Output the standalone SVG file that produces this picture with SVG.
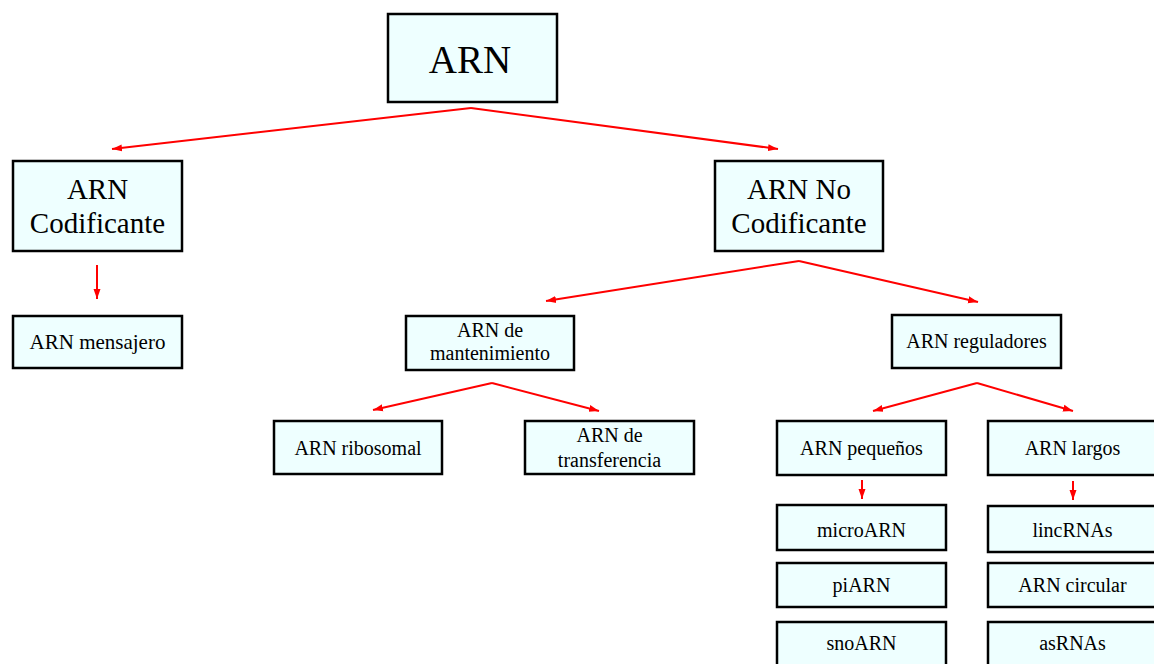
<svg xmlns="http://www.w3.org/2000/svg" width="1154" height="664" viewBox="0 0 1154 664">
<style>
.box{fill:#eeffff;stroke:#000;stroke-width:2.5}
.t{font-family:"Liberation Serif","Times New Roman",serif;fill:#000;text-anchor:middle}
.xl{font-size:39px}
.l{font-size:29px}
.s{font-size:20px}
.c{stroke:#ff0000;stroke-width:2;fill:none;marker-end:url(#ah)}
</style>
<defs>
<marker id="ah" markerUnits="userSpaceOnUse" markerWidth="11" markerHeight="9" refX="10" refY="4.5" orient="auto">
<path d="M0,1 L10,4.5 L0,8 Z" fill="#ff0000"/>
</marker>
</defs>
<rect width="1154" height="664" fill="#fff"/>
<g id="connectors">
<polyline class="c" points="471,108 112,149"/>
<polyline class="c" points="471,108 778,149"/>
<polyline class="c" points="97,265 97,299"/>
<polyline class="c" points="799,261 546,301"/>
<polyline class="c" points="799,261 978,302"/>
<polyline class="c" points="492,383 373,410"/>
<polyline class="c" points="492,383 599,411"/>
<polyline class="c" points="977,383 873,411"/>
<polyline class="c" points="977,383 1073,411"/>
<polyline class="c" points="862,480 862,499"/>
<polyline class="c" points="1073,481 1073,500"/>
</g>
<g id="n-arn"><rect class="box" x="388" y="14" width="169" height="88"/><text class="t xl" x="470" y="73">ARN</text></g>
<g id="n-cod"><rect class="box" x="13" y="161" width="169" height="90"/><text class="t l" x="97.5" y="199">ARN</text><text class="t l" x="97.5" y="233">Codificante</text></g>
<g id="n-nocod"><rect class="box" x="715" y="161" width="168" height="90"/><text class="t l" x="799" y="199">ARN No</text><text class="t l" x="799" y="233">Codificante</text></g>
<g id="n-mens"><rect class="box" x="13" y="316" width="169" height="52"/><text class="t s" x="97.5" y="349" style="font-size:21px">ARN mensajero</text></g>
<g id="n-mant"><rect class="box" x="406" y="316" width="168" height="54"/><text class="t s" x="490" y="337">ARN de</text><text class="t s" x="490" y="360">mantenimiento</text></g>
<g id="n-reg"><rect class="box" x="892" y="315" width="169" height="53"/><text class="t s" x="976.5" y="348">ARN reguladores</text></g>
<g id="n-ribo"><rect class="box" x="274" y="421" width="168" height="53"/><text class="t s" x="358" y="455">ARN ribosomal</text></g>
<g id="n-trans"><rect class="box" x="525" y="421" width="169" height="53"/><text class="t s" x="609.5" y="442">ARN de</text><text class="t s" x="609.5" y="467">transferencia</text></g>
<g id="n-peq"><rect class="box" x="777" y="421" width="169" height="54"/><text class="t s" x="861.5" y="455">ARN pequeños</text></g>
<g id="n-largos"><rect class="box" x="988" y="421" width="169" height="54"/><text class="t s" x="1072.5" y="455">ARN largos</text></g>
<g id="n-micro"><rect class="box" x="777" y="505" width="169" height="45"/><text class="t s" x="861.5" y="537">microARN</text></g>
<g id="n-pi"><rect class="box" x="777" y="563" width="169" height="44"/><text class="t s" x="861.5" y="592">piARN</text></g>
<g id="n-sno"><rect class="box" x="777" y="622" width="169" height="50"/><text class="t s" x="861.5" y="650">snoARN</text></g>
<g id="n-linc"><rect class="box" x="988" y="506" width="169" height="46"/><text class="t s" x="1072.5" y="537">lincRNAs</text></g>
<g id="n-circ"><rect class="box" x="988" y="563" width="169" height="44"/><text class="t s" x="1072.5" y="592">ARN circular</text></g>
<g id="n-as"><rect class="box" x="988" y="622" width="169" height="50"/><text class="t s" x="1072.5" y="650">asRNAs</text></g>
</svg>
